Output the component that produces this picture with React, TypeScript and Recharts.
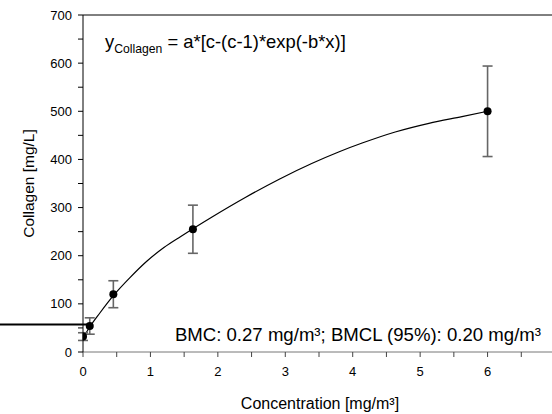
import React from "react";
import {
  ComposedChart, Line, Scatter, ErrorBar, XAxis, YAxis, ReferenceLine, Customized,
} from "recharts";

// measured means with SD (Collagen in BAL, mg/L)
const doseX = [0, 0.1, 0.45, 1.63, 6];
const collagenMean = [32, 54, 120, 255, 500];
const collagenSD = [8, 17, 28, 50, 94];

// fitted exponential curve
const curveX = [0, 0.1, 0.25, 0.45, 0.7, 0.95, 1.2, 1.45, 1.63, 1.92, 2.42, 2.91, 3.4, 3.8, 4.14, 4.63, 5.13, 5.62, 6];
const curveY = [29, 52, 81, 117, 155, 189, 217, 240, 256, 281, 322, 359, 392, 416, 434, 457, 475, 489, 500];

const xTicks = [0, 0.5, 1, 1.5, 2, 2.5, 3, 3.5, 4, 4.5, 5, 5.5, 6, 6.5];
const yTicks = [0, 50, 100, 150, 200, 250, 300, 350, 400, 450, 500, 550, 600, 650, 700];

const bmcLevel = 57;
const bmcLineX = [-1.3, 0.1];

const FONT = "'Liberation Sans', Arial, Helvetica, sans-serif";

const points = doseX.map((x, i) => ({ x, y: collagenMean[i], err: collagenSD[i] }));
const curve = curveX.map((x, i) => ({ x, y: curveY[i] }));

const YTick = (props: any) => {
  const { x, y, payload } = props;
  if (payload.value % 100 !== 0) return <g />;
  return (
    <text x={x} y={y} dy="0.35em" textAnchor="end" fontSize={13} fontFamily={FONT} fill="#000">
      {payload.value}
    </text>
  );
};

const XTick = (props: any) => {
  const { x, y, payload } = props;
  if (!Number.isInteger(payload.value)) return <g />;
  return (
    <text x={x} y={y} dy="0.71em" textAnchor="middle" fontSize={13} fontFamily={FONT} fill="#000">
      {payload.value}
    </text>
  );
};

// axis titles and annotations
const Annotations = () => (
  <g fontFamily={FONT} fill="#000">
    <text x={105} y={48} fontSize={18.4}>
      y<tspan fontSize={12.2} dy={5}>Collagen</tspan>
      <tspan dy={-5}> = a*[c-(c-1)*exp(-b*x)]</tspan>
    </text>
    <text x={541} y={341} fontSize={18.6} textAnchor="end">
      BMC: 0.27 mg/m³; BMCL (95%): 0.20 mg/m³
    </text>
    <text x={320} y={409} fontSize={16} textAnchor="middle">
      Concentration [mg/m³]
    </text>
    <text x={0} y={0} fontSize={15.5} textAnchor="middle" transform="translate(33.5,183.5) rotate(-90)">
      Collagen [mg/L]
    </text>
  </g>
);

export default function App() {
  return (
    <div style={{ position: "absolute", left: 0, top: 0, width: 552, height: 414, overflow: "hidden", background: "#fff" }}>
      <ComposedChart width={555} height={414} margin={{ top: 15, right: 0, bottom: 0, left: 0 }}>
        <XAxis
          dataKey="x"
          type="number"
          domain={[0, 7]}
          ticks={xTicks}
          allowDataOverflow
          height={62}
          stroke="#777"
          tickSize={5}
          tickMargin={10}
          tick={<XTick />}
          tickLine={{ stroke: "#444" }}
        />
        <YAxis
          dataKey="y"
          type="number"
          domain={[0, 700]}
          ticks={yTicks}
          width={83}
          stroke="#000"
          tickSize={5}
          tickMargin={6}
          tick={<YTick />}
        />
        <ReferenceLine y={700} stroke="#000" strokeWidth={1} />
        <ReferenceLine
          segment={[{ x: bmcLineX[0], y: bmcLevel }, { x: bmcLineX[1], y: bmcLevel }]}
          stroke="#000"
          strokeWidth={2}
          ifOverflow="visible"
        />
        <Line
          data={curve}
          dataKey="y"
          type="monotone"
          stroke="#000"
          strokeWidth={1.2}
          dot={false}
          activeDot={false}
          isAnimationActive={false}
        />
        <Scatter data={points} dataKey="y" fill="#000" isAnimationActive={false}
          shape={(p: any) => <circle cx={p.cx} cy={p.cy} r={4} fill="#000" />}>
          <ErrorBar dataKey="err" direction="y" width={5} stroke="#666" strokeWidth={1.6} isAnimationActive={false} />
        </Scatter>
        <Customized component={Annotations} />
      </ComposedChart>
    </div>
  );
}
